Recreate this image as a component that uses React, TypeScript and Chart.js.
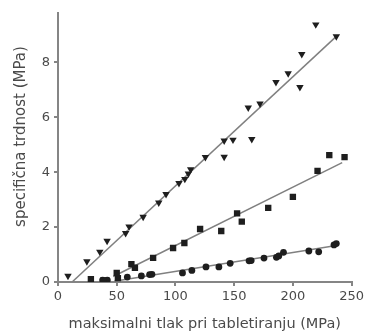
import React, { useEffect, useRef } from "react";
import { Chart, registerables } from "chart.js";

Chart.register(...registerables);

// Triangles (upper series)
const triX = [8.5, 24.6, 35.6, 41.8, 57.6, 60.5, 72.5, 85.8, 92, 103, 108, 111, 113, 125.5, 141.5, 141.5, 149, 165, 162, 172, 185.6, 196, 206, 207.6, 219.5, 237];
const triY = [0.22, 0.75, 1.1, 1.5, 1.78, 2.02, 2.37, 2.89, 3.2, 3.6, 3.75, 3.95, 4.1, 4.55, 4.56, 5.15, 5.18, 5.2, 6.35, 6.5, 7.28, 7.6, 7.1, 8.3, 9.38, 8.95];
// Squares (middle series)
const sqX = [28, 39, 51, 50, 62.5, 65.5, 81, 98, 107.6, 121, 139, 152.5, 156.5, 179, 200, 221, 231, 244];
const sqY = [0.1, 0.06, 0.14, 0.33, 0.65, 0.52, 0.88, 1.24, 1.42, 1.93, 1.86, 2.5, 2.2, 2.7, 3.1, 4.05, 4.62, 4.55];
// Circles (lower series)
const ciX = [38, 42, 59, 71, 78, 80, 106, 114, 126, 137, 146.6, 162.7, 164.5, 175.4, 186, 188, 192, 213.6, 222, 235, 237];
const ciY = [0.07, 0.07, 0.18, 0.22, 0.27, 0.28, 0.33, 0.42, 0.55, 0.55, 0.68, 0.77, 0.78, 0.87, 0.9, 0.95, 1.08, 1.13, 1.1, 1.35, 1.4];
// Fitted lines (endpoints)
const fitTriX = [12, 237];
const fitTriY = [0, 8.95];
const fitSqX = [47, 242];
const fitSqY = [0.2, 4.35];
const fitCiX = [48, 237];
const fitCiY = [0.03, 1.33];

const xTicks = [0, 50, 100, 150, 200, 250];
const yTicks = [0, 2, 4, 6, 8];
const xTitle = "maksimalni tlak pri tabletiranju (MPa)";
const yTitle = "specifična trdnost (MPa)";

const pts = (xs: number[], ys: number[]) => xs.map((x, i) => ({ x, y: ys[i] }));

export default function App() {
  const ref = useRef<HTMLCanvasElement | null>(null);
  useEffect(() => {
    if (!ref.current) return;
    const markColor = "#1e1e1e";
    const lineColor = "#808080";
    const textColor = "#4a4a4a";
    const axisColor = "#858585";
    const font = "'DejaVu Sans', sans-serif";
    const yTitlePlugin = {
      id: "yTitleText",
      afterDraw(c: any) {
        const ctx = c.ctx;
        const area = c.chartArea;
        ctx.save();
        ctx.translate(21, (area.top + area.bottom) / 2 - 11);
        ctx.rotate(-Math.PI / 2);
        ctx.font = `15px ${font}`;
        ctx.fillStyle = textColor;
        ctx.textAlign = "center";
        ctx.textBaseline = "middle";
        ctx.fillText(yTitle, 0, 0);
        ctx.restore();
      },
    };
    const chart = new Chart(ref.current, {
      type: "scatter",
      data: {
        datasets: [
          { data: pts(triX, triY), pointStyle: "triangle", rotation: 180, pointRadius: 4.3, backgroundColor: markColor, borderColor: markColor, borderWidth: 0, order: 0 },
          { data: pts(sqX, sqY), pointStyle: "rect", pointRadius: 4.5, backgroundColor: markColor, borderColor: markColor, borderWidth: 0, order: 0 },
          { data: pts(ciX, ciY), pointStyle: "circle", pointRadius: 3.4, backgroundColor: markColor, borderColor: markColor, borderWidth: 0, order: 0 },
          { type: "line", data: pts(fitTriX, fitTriY), showLine: true, pointRadius: 0, borderColor: lineColor, borderWidth: 1.5, order: 1 },
          { type: "line", data: pts(fitSqX, fitSqY), showLine: true, pointRadius: 0, borderColor: lineColor, borderWidth: 1.5, order: 1 },
          { type: "line", data: pts(fitCiX, fitCiY), showLine: true, pointRadius: 0, borderColor: lineColor, borderWidth: 1.5, order: 1 },
        ] as any,
      },
      options: {
        animation: false,
        responsive: true,
        maintainAspectRatio: false,
        layout: { padding: { top: 13, right: 13, left: 0, bottom: 0 } },
        plugins: { legend: { display: false }, tooltip: { enabled: false } },
        scales: {
          x: {
            type: "linear",
            min: 0,
            max: 250,
            afterBuildTicks: (s: any) => { s.ticks = xTicks.map((v) => ({ value: v })); },
            afterFit: (s: any) => { s.height = 53; },
            grid: { drawOnChartArea: false, drawTicks: true, tickLength: 4, color: axisColor, lineWidth: 2 },
            border: { color: axisColor, width: 2 },
            ticks: { color: textColor, font: { family: font, size: 13 }, padding: 3, maxRotation: 0 },
            title: { display: true, text: xTitle, color: textColor, font: { family: font, size: 14.5 }, padding: { top: 0, bottom: 2 } },
          },
          y: {
            type: "linear",
            min: 0,
            max: 9.8,
            afterBuildTicks: (s: any) => { s.ticks = yTicks.map((v) => ({ value: v })); },
            afterFit: (s: any) => { s.width = 58; },
            grid: { drawOnChartArea: false, drawTicks: true, tickLength: 4, color: axisColor, lineWidth: 2 },
            border: { color: axisColor, width: 2 },
            ticks: { color: textColor, font: { family: font, size: 13 }, padding: 4 },
            title: { display: false },
          },
        },
      } as any,
      plugins: [yTitlePlugin],
    });
    return () => chart.destroy();
  }, []);
  return (
    <div style={{ position: "fixed", left: 0, top: 0, width: 367, height: 335, background: "#fff" }}>
      <canvas ref={ref} />
    </div>
  );
}
